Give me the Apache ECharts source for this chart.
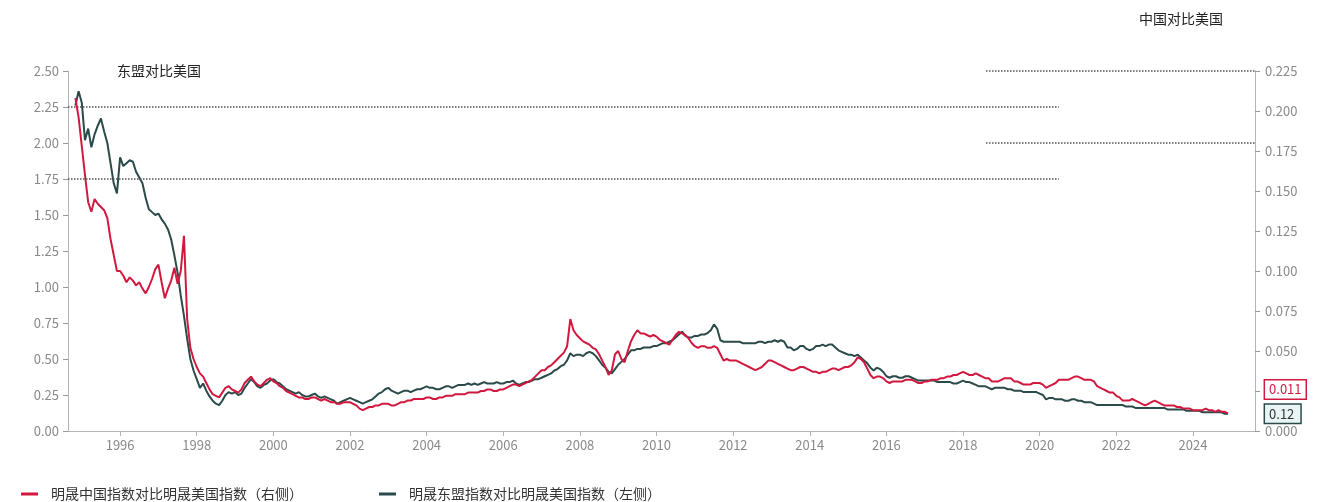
<!DOCTYPE html>
<html>
<head>
<meta charset="utf-8">
<script src="https://cdn.jsdelivr.net/npm/echarts@6/dist/echarts.min.js"></script>
<style>
  html, body { margin: 0; padding: 0; background: #fff; }
  #chart { width: 1343px; height: 502px; }
</style>
</head>
<body>
<div id="chart"></div>
<script>
// Monthly observations, first month = Nov 1994
const startYear = 1994;
const startMonth = 10; // 0-based month index (November)

// MSCI ASEAN / MSCI USA (left axis)
const aseanVsUs = [
  2.26, 2.36,                                                             // 1994 Nov-Dec
  2.28, 2.02, 2.10, 1.97, 2.06, 2.12, 2.17, 2.08, 2.00, 1.86, 1.72, 1.65, // 1995
  1.90, 1.84, 1.86, 1.88, 1.87, 1.80, 1.76, 1.72, 1.62, 1.54, 1.52, 1.50, // 1996
  1.51, 1.47, 1.44, 1.40, 1.33, 1.22, 1.10, 0.94, 0.80, 0.64, 0.50, 0.42, // 1997
  0.36, 0.30, 0.33, 0.28, 0.24, 0.21, 0.19, 0.18, 0.21, 0.25, 0.27, 0.26, // 1998
  0.27, 0.25, 0.26, 0.30, 0.33, 0.36, 0.34, 0.31, 0.30, 0.32, 0.33, 0.35, // 1999
  0.36, 0.34, 0.33, 0.31, 0.29, 0.28, 0.27, 0.26, 0.27, 0.25, 0.24, 0.24, // 2000
  0.25, 0.26, 0.24, 0.23, 0.24, 0.23, 0.22, 0.21, 0.19, 0.20, 0.21, 0.22, // 2001
  0.23, 0.22, 0.21, 0.20, 0.19, 0.20, 0.21, 0.22, 0.24, 0.26, 0.27, 0.29, // 2002
  0.30, 0.28, 0.27, 0.26, 0.27, 0.28, 0.28, 0.27, 0.28, 0.29, 0.29, 0.30, // 2003
  0.31, 0.30, 0.30, 0.29, 0.29, 0.30, 0.31, 0.31, 0.30, 0.31, 0.32, 0.32, // 2004
  0.32, 0.33, 0.32, 0.33, 0.32, 0.33, 0.34, 0.33, 0.33, 0.33, 0.34, 0.33, // 2005
  0.33, 0.34, 0.34, 0.35, 0.33, 0.32, 0.33, 0.34, 0.34, 0.35, 0.36, 0.36, // 2006
  0.37, 0.38, 0.39, 0.40, 0.42, 0.43, 0.45, 0.46, 0.49, 0.54, 0.52, 0.53, // 2007
  0.53, 0.52, 0.54, 0.55, 0.54, 0.52, 0.49, 0.46, 0.44, 0.41, 0.40, 0.43, // 2008
  0.46, 0.48, 0.50, 0.53, 0.56, 0.56, 0.57, 0.57, 0.58, 0.58, 0.58, 0.59, // 2009
  0.59, 0.60, 0.61, 0.61, 0.62, 0.63, 0.65, 0.67, 0.69, 0.66, 0.65, 0.65, // 2010
  0.66, 0.66, 0.67, 0.67, 0.68, 0.70, 0.74, 0.71, 0.63, 0.62, 0.62, 0.62, // 2011
  0.62, 0.62, 0.62, 0.61, 0.61, 0.61, 0.61, 0.61, 0.62, 0.62, 0.61, 0.62, // 2012
  0.62, 0.63, 0.62, 0.63, 0.62, 0.58, 0.58, 0.56, 0.57, 0.59, 0.59, 0.57, // 2013
  0.56, 0.57, 0.59, 0.59, 0.60, 0.59, 0.60, 0.60, 0.58, 0.56, 0.55, 0.54, // 2014
  0.53, 0.53, 0.52, 0.53, 0.51, 0.49, 0.47, 0.44, 0.42, 0.44, 0.43, 0.41, // 2015
  0.38, 0.37, 0.38, 0.38, 0.37, 0.37, 0.38, 0.38, 0.37, 0.36, 0.35, 0.35, // 2016
  0.35, 0.35, 0.35, 0.35, 0.34, 0.34, 0.34, 0.34, 0.34, 0.33, 0.33, 0.34, // 2017
  0.35, 0.34, 0.34, 0.33, 0.32, 0.31, 0.31, 0.31, 0.30, 0.29, 0.30, 0.30, // 2018
  0.30, 0.30, 0.29, 0.29, 0.28, 0.28, 0.28, 0.27, 0.27, 0.27, 0.27, 0.27, // 2019
  0.26, 0.25, 0.22, 0.23, 0.23, 0.22, 0.22, 0.22, 0.21, 0.21, 0.22, 0.22, // 2020
  0.21, 0.21, 0.20, 0.20, 0.20, 0.19, 0.18, 0.18, 0.18, 0.18, 0.18, 0.18, // 2021
  0.18, 0.18, 0.18, 0.17, 0.17, 0.17, 0.16, 0.16, 0.16, 0.16, 0.16, 0.16, // 2022
  0.16, 0.16, 0.16, 0.16, 0.15, 0.15, 0.15, 0.15, 0.15, 0.15, 0.14, 0.14, // 2023
  0.14, 0.14, 0.14, 0.13, 0.13, 0.13, 0.13, 0.13, 0.13, 0.13, 0.12, 0.12  // 2024
];

// MSCI China / MSCI USA (right axis)
const chinaVsUs = [
  0.208, 0.196,                                                                         // 1994 Nov-Dec
  0.178, 0.160, 0.143, 0.137, 0.145, 0.142, 0.140, 0.138, 0.133, 0.120, 0.110, 0.100,   // 1995
  0.100, 0.097, 0.093, 0.096, 0.094, 0.091, 0.093, 0.089, 0.086, 0.090, 0.095, 0.101,   // 1996
  0.104, 0.093, 0.083, 0.089, 0.094, 0.102, 0.092, 0.100, 0.122, 0.070, 0.052, 0.045,   // 1997
  0.040, 0.036, 0.034, 0.030, 0.026, 0.023, 0.022, 0.021, 0.024, 0.027, 0.028, 0.026,   // 1998
  0.025, 0.024, 0.026, 0.030, 0.032, 0.034, 0.031, 0.029, 0.028, 0.030, 0.032, 0.033,   // 1999
  0.031, 0.030, 0.028, 0.027, 0.025, 0.024, 0.023, 0.022, 0.021, 0.021, 0.020, 0.020,   // 2000
  0.021, 0.021, 0.020, 0.019, 0.020, 0.019, 0.018, 0.018, 0.017, 0.017, 0.018, 0.018,   // 2001
  0.018, 0.017, 0.016, 0.014, 0.013, 0.014, 0.015, 0.015, 0.016, 0.016, 0.017, 0.017,   // 2002
  0.017, 0.016, 0.016, 0.017, 0.018, 0.018, 0.019, 0.019, 0.020, 0.020, 0.020, 0.020,   // 2003
  0.021, 0.021, 0.020, 0.020, 0.021, 0.021, 0.022, 0.022, 0.022, 0.023, 0.023, 0.023,   // 2004
  0.023, 0.024, 0.024, 0.024, 0.024, 0.025, 0.025, 0.026, 0.026, 0.025, 0.025, 0.026,   // 2005
  0.026, 0.027, 0.028, 0.029, 0.029, 0.028, 0.029, 0.030, 0.031, 0.032, 0.034, 0.036,   // 2006
  0.038, 0.038, 0.040, 0.041, 0.043, 0.045, 0.047, 0.049, 0.053, 0.070, 0.063, 0.060,   // 2007
  0.058, 0.056, 0.055, 0.054, 0.052, 0.051, 0.048, 0.044, 0.040, 0.035, 0.038, 0.048,   // 2008
  0.050, 0.045, 0.043, 0.050, 0.056, 0.060, 0.063, 0.061, 0.061, 0.060, 0.059, 0.060,   // 2009
  0.059, 0.057, 0.056, 0.055, 0.054, 0.057, 0.060, 0.062, 0.061, 0.060, 0.058, 0.055,   // 2010
  0.053, 0.052, 0.053, 0.053, 0.052, 0.052, 0.053, 0.052, 0.048, 0.044, 0.045, 0.044,   // 2011
  0.044, 0.044, 0.043, 0.042, 0.041, 0.040, 0.039, 0.038, 0.039, 0.040, 0.042, 0.044,   // 2012
  0.044, 0.043, 0.042, 0.041, 0.040, 0.039, 0.038, 0.038, 0.039, 0.040, 0.040, 0.039,   // 2013
  0.038, 0.037, 0.037, 0.036, 0.037, 0.037, 0.038, 0.039, 0.039, 0.038, 0.039, 0.040,   // 2014
  0.040, 0.041, 0.043, 0.046, 0.045, 0.043, 0.039, 0.035, 0.033, 0.034, 0.034, 0.033,   // 2015
  0.031, 0.030, 0.031, 0.031, 0.031, 0.031, 0.032, 0.032, 0.032, 0.031, 0.030, 0.030,   // 2016
  0.031, 0.031, 0.032, 0.032, 0.032, 0.033, 0.033, 0.034, 0.034, 0.035, 0.035, 0.036,   // 2017
  0.037, 0.036, 0.035, 0.035, 0.036, 0.035, 0.034, 0.033, 0.033, 0.031, 0.031, 0.031,   // 2018
  0.032, 0.033, 0.033, 0.033, 0.031, 0.031, 0.030, 0.029, 0.029, 0.029, 0.030, 0.030,   // 2019
  0.030, 0.029, 0.027, 0.028, 0.029, 0.030, 0.032, 0.032, 0.032, 0.032, 0.033, 0.034,   // 2020
  0.034, 0.033, 0.032, 0.032, 0.032, 0.031, 0.028, 0.027, 0.026, 0.025, 0.024, 0.024,   // 2021
  0.022, 0.021, 0.019, 0.019, 0.019, 0.020, 0.019, 0.018, 0.017, 0.016, 0.017, 0.018,   // 2022
  0.019, 0.018, 0.017, 0.016, 0.016, 0.016, 0.016, 0.015, 0.015, 0.014, 0.014, 0.014,   // 2023
  0.013, 0.013, 0.013, 0.013, 0.014, 0.013, 0.013, 0.012, 0.013, 0.012, 0.012, 0.011    // 2024
];

// Year ticks shown on the time axis
const xTickYears = [1996, 1998, 2000, 2002, 2004, 2006, 2008, 2010, 2012, 2014, 2016, 2018, 2020, 2022, 2024];

// Dotted reference levels: [value, fromYear, toYear]
const leftRefLevels = [[2.25, 1994.64, 2020.5], [1.75, 1994.64, 2020.5]];
const rightRefLevels = [[0.225, 2018.6, 2025.62], [0.18, 2018.6, 2025.62]];

const seriesNames = ['明晟中国指数对比明晟美国指数（右侧）', '明晟东盟指数对比明晟美国指数（左侧）'];
const panelTitles = ['东盟对比美国', '中国对比美国'];

const RED = '#d1193f';
const TEAL = '#2b4a4a';

function toPoints(values) {
  return values.map((v, i) => [startYear + (startMonth + i) / 12, v]);
}
function refLines(levels) {
  return levels.map(([v, a, b]) => [{ coord: [a, v] }, { coord: [b, v] }]);
}

const chart = echarts.init(document.getElementById('chart'));
const axisGrey = '#b5b5b5';
const labelGrey = '#8a8a8a';
const font = 'Noto Sans CJK SC, Noto Sans, sans-serif';

chart.setOption({
  animation: false,
  backgroundColor: '#fff',
  textStyle: { fontFamily: font },
  title: [
    { text: panelTitles[0], left: 112, top: 59, textStyle: { fontSize: 14, fontWeight: 'normal', color: '#222' } },
    { text: panelTitles[1], left: 1134, top: 7, textStyle: { fontSize: 14, fontWeight: 'normal', color: '#222' } }
  ],
  legend: {
    left: 16, top: 482,
    icon: 'rect', itemWidth: 17, itemHeight: 3, itemGap: 76,
    textStyle: { fontSize: 14, color: '#333', padding: [0, 0, 0, 8] },
    data: seriesNames
  },
  grid: { left: 68, right: 88, top: 71, bottom: 71 },
  xAxis: {
    type: 'value',
    min: 1994.64, max: 2025.62,
    axisLine: { lineStyle: { color: axisGrey } },
    axisTick: { show: true, length: 5, customValues: xTickYears, lineStyle: { color: axisGrey } },
    axisLabel: { customValues: xTickYears, color: labelGrey, fontSize: 13, margin: 8, formatter: v => String(Math.round(v)) },
    splitLine: { show: false }
  },
  yAxis: [
    {
      type: 'value', position: 'left', min: 0, max: 2.5, interval: 0.25,
      axisLine: { show: true, lineStyle: { color: axisGrey } },
      axisTick: { show: true, length: 5, lineStyle: { color: '#999' } },
      axisLabel: { color: labelGrey, fontSize: 13, margin: 9, formatter: v => v.toFixed(2) },
      splitLine: { show: false }
    },
    {
      type: 'value', position: 'right', min: 0, max: 0.225, interval: 0.025,
      axisLine: { show: true, lineStyle: { color: axisGrey } },
      axisTick: { show: true, length: 5, lineStyle: { color: '#999' } },
      axisLabel: { color: labelGrey, fontSize: 13, margin: 10, formatter: v => v.toFixed(3) },
      splitLine: { show: false }
    }
  ],
  series: [
    {
      name: seriesNames[0], type: 'line', yAxisIndex: 1,
      data: toPoints(chinaVsUs),
      showSymbol: false, z: 3,
      lineStyle: { color: RED, width: 2 }, itemStyle: { color: RED },
      endLabel: {
        show: true, distance: 37, offset: [0, -24],
        formatter: p => p.value[1].toFixed(3),
        color: RED, fontSize: 13, backgroundColor: '#fff',
        borderColor: RED, borderWidth: 1.5, padding: [3, 4, 2, 4]
      },
      markLine: {
        silent: true, symbol: 'none', label: { show: false },
        lineStyle: { type: 'dotted', color: '#555', width: 1.5 },
        data: refLines(rightRefLevels)
      }
    },
    {
      name: seriesNames[1], type: 'line', yAxisIndex: 0,
      data: toPoints(aseanVsUs),
      showSymbol: false, z: 2,
      lineStyle: { color: TEAL, width: 2 }, itemStyle: { color: TEAL },
      endLabel: {
        show: true, distance: 37, offset: [0, 0],
        formatter: p => p.value[1].toFixed(2),
        color: '#333', fontSize: 13, backgroundColor: '#e8f5f4',
        borderColor: TEAL, borderWidth: 1.5, padding: [3, 6, 2, 4]
      },
      markLine: {
        silent: true, symbol: 'none', label: { show: false },
        lineStyle: { type: 'dotted', color: '#555', width: 1.5 },
        data: refLines(leftRefLevels)
      }
    }
  ]
});
</script>
</body>
</html>
